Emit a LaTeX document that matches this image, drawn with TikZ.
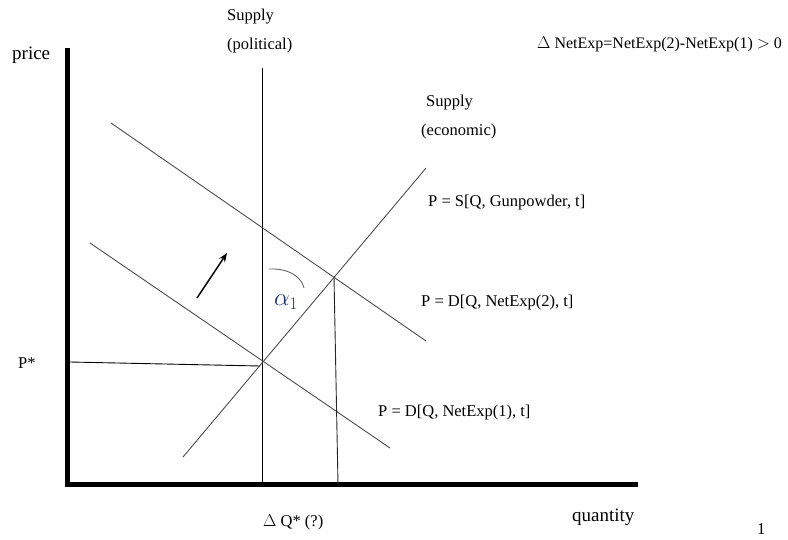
\documentclass[tikz,border=0pt]{standalone}
\usepackage{fontspec}
\setmainfont{Liberation Serif}
\usetikzlibrary{arrows.meta}
\definecolor{alphablue}{RGB}{30,45,110}
\begin{document}
\begin{tikzpicture}[x=1pt,y=-1pt,
  lbl/.style={anchor=west,inner sep=0pt,font=\fontsize{16.5}{18}\selectfont},
  axlbl/.style={anchor=west,inner sep=0pt,font=\fontsize{19}{21}\selectfont},
  curve/.style={draw=black!70,line width=0.9pt},
  axisline/.style={line width=5.5pt,line join=miter,line cap=butt},
  arrowline/.style={line width=1.5pt,-{Stealth[length=9pt,width=7pt]}}]
\useasboundingbox (0,0) rectangle (788,539);
% axes
\coordinate (ytop) at (67.5,48);
\coordinate (origin) at (67.5,484.5);
\coordinate (xend) at (638,484.5);
\draw[axisline] (ytop) -- (origin) -- (xend);
% supply (political)
\coordinate (polTop) at (262,68);
\coordinate (polBot) at (262,484);
\draw[line width=0.9pt] (polTop) -- (polBot);
% supply (economic)
\coordinate (ecoA) at (183,457);
\coordinate (ecoB) at (426,168);
\draw[curve] (ecoA) -- (ecoB);
% demand 1
\coordinate (d1A) at (90,243);
\coordinate (d1B) at (390,448);
\draw[curve] (d1A) -- (d1B);
% demand 2
\coordinate (d2A) at (111,123);
\coordinate (d2B) at (426,341);
\draw[curve] (d2A) -- (d2B);
% P* line
\coordinate (pstarL) at (70,362);
\coordinate (eq1) at (260,366);
\draw[line width=0.9pt] (pstarL) -- (eq1);
% vertical from new equilibrium
\coordinate (eq2) at (334,277);
\coordinate (eq2B) at (338,484);
\draw[line width=0.9pt,black!85] (eq2) -- (eq2B);
% arrow
\coordinate (arrT) at (197,298);
\coordinate (arrH) at (227,253);
\draw[arrowline] (arrT) -- (arrH);
% angle arc
\coordinate (arcA) at (269,269);
\coordinate (arcB) at (304,288);
\draw[black!60,line width=0.9pt] (arcA) .. controls (290,268) and (302,278) .. (arcB);
\node[inner sep=0pt,text=alphablue,font=\fontsize{24}{24}\selectfont] (alpha) at (286,302) {$\alpha_1$};
% labels
\node[axlbl] (price) at (12,55) {price};
\node[lbl] (supP1) at (227,17) {Supply};
\node[lbl] (supP2) at (227,46) {(political)};
\node[lbl,font=\fontsize{16}{18}\selectfont] (dnet) at (537,44) {$\Delta$ NetExp=NetExp(2)-NetExp(1) $>$ 0};
\node[lbl] (supE1) at (426,103) {Supply};
\node[lbl] (supE2) at (421,132) {(economic)};
\node[lbl] (sLab) at (428,203) {P = S[Q, Gunpowder, t]};
\node[lbl] (d2Lab) at (421,303) {P = D[Q, NetExp(2), t]};
\node[lbl] (d1Lab) at (378,413) {P = D[Q, NetExp(1), t]};
\node[lbl] (pstar) at (18,363) {P*};
\node[lbl] (dq) at (263,522) {$\Delta$ Q* (?)};
\node[axlbl] (qty) at (572,517) {quantity};
\node[lbl] (pg) at (757,529) {1};
\end{tikzpicture}
\end{document}
